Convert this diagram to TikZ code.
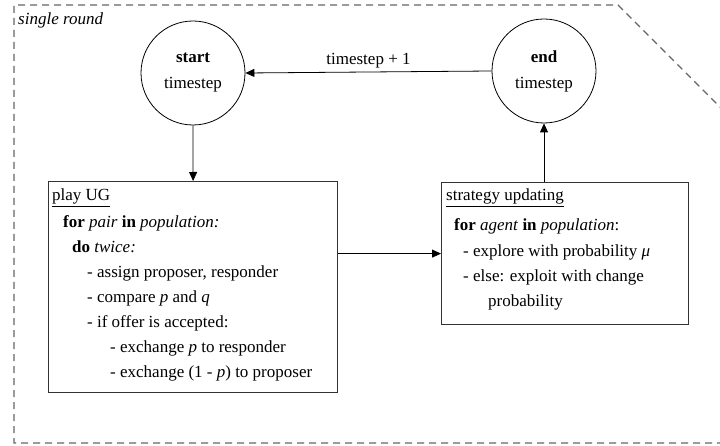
\documentclass[tikz,border=0pt]{standalone}
\usepackage{fontspec}
\setmainfont{LiberationSerif}[Extension=.ttf, UprightFont=*-Regular, BoldFont=*-Bold, ItalicFont=*-Italic, BoldItalicFont=*-BoldItalic]
\usetikzlibrary{arrows.meta}

\begin{document}
\begin{tikzpicture}[x=1pt,y=-1pt,
  every node/.style={font=\fontsize{17}{26}\selectfont},
  frame/.style={color=black!60, line width=1.1pt, dash pattern=on 7pt off 5pt},
  timenode/.style={draw, circle, minimum size=104pt, inner sep=0pt, align=center, line width=0.8pt},
  stepbox/.style={draw=black!80, line width=1.2pt, rectangle, inner sep=0pt, anchor=north west},
  textline/.style={anchor=base west, inner sep=0pt},
  flow/.style={-{Triangle[length=9pt,width=8pt]}, line width=0.8pt}]
  \useasboundingbox (0,0) rectangle (720,446);
  \clip (0,0) rectangle (720,446);

  % dashed frame round one round
  \draw[frame] (760,443) -- (14,443) -- (14,5) -- (618,5) -- (780,167);
  \node[anchor=base west, inner sep=0pt] (round) at (18,25) {\textit{single round}};

  % timestep nodes
  \node[timenode] (start) at (193,73) {\textbf{start}\\timestep};
  \node[timenode] (end) at (544,71) {\textbf{end}\\timestep};

  % play UG
  \node[stepbox, minimum width=289pt, minimum height=211pt] (playug) at (48,181) {};
  \node[textline] (ugtitle) at (52,201) {\underline{play UG}};
  \node[textline] (ugfor) at (63,228) {\textbf{for} \textit{pair} \textbf{in} \textit{population:}};
  \node[textline] (ugdo) at (72,253) {\textbf{do} \textit{twice:}};
  \node[textline] (ugassign) at (87,278) {- assign proposer, responder};
  \node[textline] (ugcompare) at (87,302) {- compare \textit{p} and \textit{q}};
  \node[textline] (ugif) at (87,327) {- if offer is accepted:};
  \node[textline] (ugresp) at (110,352) {- exchange \textit{p} to responder};
  \node[textline] (ugprop) at (110,377) {- exchange (1 - \textit{p}) to proposer};

  % strategy updating
  \node[stepbox, minimum width=247pt, minimum height=142pt] (update) at (441,182) {};
  \node[textline] (uptitle) at (446,201) {\underline{strategy updating}};
  \node[textline] (upfor) at (454,231) {\textbf{for} \textit{agent} \textbf{in} \textit{population}:};
  \node[textline] (upexplore) at (463,257) {- explore with probability \textit{μ}};
  \node[textline] (upelse) at (463,282) {- else: exploit with change};
  \node[textline] (upprob) at (488,307) {probability};

  % connectors
  \draw[flow] (end.west) -- node[above, inner sep=3pt] (inc) {timestep + 1} (start.east);
  \draw[flow] (start.south) -- (playug.north);
  \draw[flow] (playug.east |- update.west) -- (update.west);
  \draw[flow] (update.north -| end.south) -- (end.south);
\end{tikzpicture}
\end{document}
